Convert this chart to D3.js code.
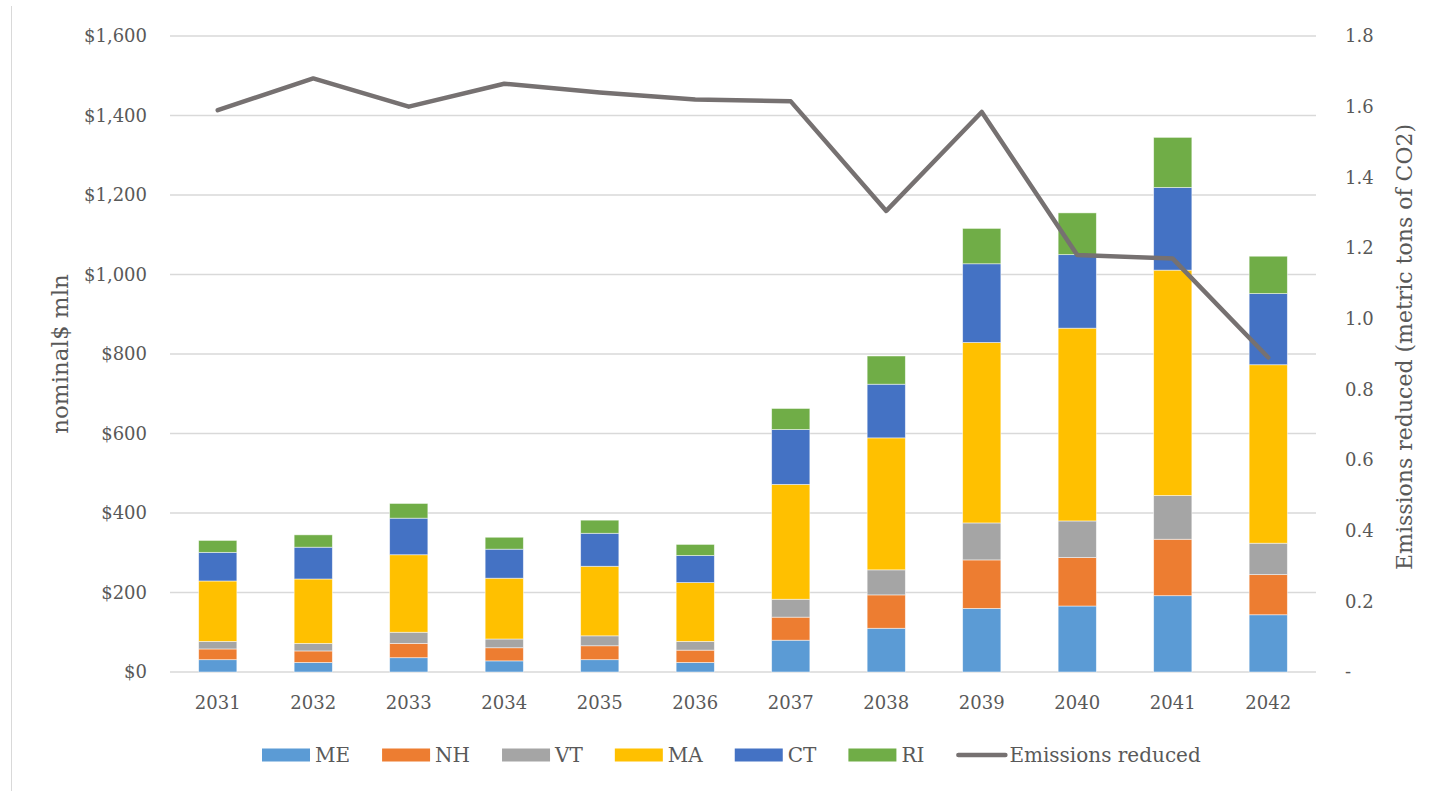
<!DOCTYPE html>
<html lang="en">
<head>
  <meta charset="UTF-8">
  <title>Stacked bars with emissions line</title>
  <script src="https://cdn.jsdelivr.net/npm/d3@7"></script>
  <style>
    body { margin: 0; background: #fff; }
    text { font-family: "DejaVu Serif", serif; fill: #595959; }
  </style>
</head>
<body>
  <script>
      // chart data
      var years = ["2031","2032","2033","2034","2035","2036","2037","2038","2039","2040","2041","2042"];
      var states = ["ME","NH","VT","MA","CT","RI"];
      var ME = [31, 24, 36, 28, 31, 24, 80, 110, 160, 166, 192, 144];
      var NH = [27, 29, 36, 33, 35, 31, 58, 84, 122, 122, 142, 101];
      var VT = [19, 19, 28, 22, 25, 22, 45, 63, 93, 92, 110, 79];
      var MA = [152, 162, 195, 153, 175, 148, 289, 332, 454, 485, 567, 449];
      var CT = [72, 80, 92, 73, 83, 68, 138, 135, 198, 185, 208, 179];
      var RI = [30, 31, 37, 30, 33, 28, 53, 71, 89, 105, 126, 94];
      var emissions = [1.59, 1.68, 1.60, 1.665, 1.64, 1.62, 1.615, 1.305, 1.585, 1.18, 1.17, 0.89];
      var leftTicks = [0, 200, 400, 600, 800, 1000, 1200, 1400, 1600];
      var rightTicks = [0, 0.2, 0.4, 0.6, 0.8, 1.0, 1.2, 1.4, 1.6, 1.8];

      var width = 1429, height = 791;
      var colors = {ME:"#5B9BD5", NH:"#ED7D31", VT:"#A5A5A5", MA:"#FFC000", CT:"#4472C4", RI:"#70AD47"};
      var lineColor = "#767171";

      // build rows for the stack
      var bySeries = {ME:ME, NH:NH, VT:VT, MA:MA, CT:CT, RI:RI};
      var rows = years.map(function(y, i){
        var r = {year: y};
        states.forEach(function(s){ r[s] = bySeries[s][i]; });
        return r;
      });
      var stacked = d3.stack().keys(states)(rows);

      var svg = d3.select("body")
        .append("svg")
        .attr("width", width)
        .attr("height", height);

      // thin outer frame line on the left
      svg.append("line")
        .attr("x1", 11.5).attr("x2", 11.5)
        .attr("y1", 6).attr("y2", height)
        .attr("stroke", "#d9d9d9").attr("stroke-width", 1);

      var x = d3.scaleBand().domain(years).range([170, 1316]).paddingInner(0.6).paddingOuter(0.3);
      var y = d3.scaleLinear().domain([0, 1600]).range([672, 36]);
      var y2 = d3.scaleLinear().domain([0, 1.8]).range([672, 36]);

      // gridlines
      svg.append("g").selectAll("line").data(leftTicks).enter()
        .append("line")
        .attr("x1", 170).attr("x2", 1316)
        .attr("y1", function(d){ return y(d); })
        .attr("y2", function(d){ return y(d); })
        .attr("stroke", "#d9d9d9").attr("stroke-width", 1.5);

      // left axis
      var leftAxis = svg.append("g")
        .attr("transform", "translate(152,0)")
        .call(d3.axisLeft(y).tickValues(leftTicks).tickSize(0).tickPadding(5)
          .tickFormat(function(d){ return "$" + d3.format(",")(d); }));
      leftAxis.select(".domain").remove();
      leftAxis.selectAll("text").attr("font-size", 18).style("font-family", "DejaVu Serif").attr("fill", "#595959");

      // right axis
      var rightAxis = svg.append("g")
        .attr("transform", "translate(1340,0)")
        .call(d3.axisRight(y2).tickValues(rightTicks).tickSize(0).tickPadding(5)
          .tickFormat(function(d){ return d === 0 ? "-" : d3.format(".1f")(d); }));
      rightAxis.select(".domain").remove();
      rightAxis.selectAll("text").attr("font-size", 18).style("font-family", "DejaVu Serif").attr("fill", "#595959");

      // x axis labels
      svg.append("g").selectAll("text").data(years).enter()
        .append("text")
        .attr("x", function(d){ return x(d) + x.bandwidth()/2; })
        .attr("y", 709)
        .attr("text-anchor", "middle")
        .attr("font-size", 18)
        .text(function(d){ return d; });

      // stacked bars
      var layers = svg.append("g").selectAll("g").data(stacked).enter()
        .append("g")
        .attr("fill", function(d){ return colors[d.key]; });

      layers.selectAll("rect").data(function(d){ return d; }).enter()
        .append("rect")
        .attr("x", function(d){ return x(d.data.year); })
        .attr("width", x.bandwidth())
        .attr("y", function(d){ return y(d[1]); })
        .attr("height", function(d){ return y(d[0]) - y(d[1]); })
        .attr("stroke", "#ffffff")
        .attr("stroke-opacity", 0.6)
        .attr("stroke-width", 0.8);

      // emissions line on right axis
      var line = d3.line()
        .x(function(d, i){ return x(years[i]) + x.bandwidth()/2; })
        .y(function(d){ return y2(d); });

      svg.append("path")
        .datum(emissions)
        .attr("d", line)
        .attr("fill", "none")
        .attr("stroke", lineColor)
        .attr("stroke-width", 4.5)
        .attr("stroke-linejoin", "round")
        .attr("stroke-linecap", "round");

      // axis titles
      svg.append("text")
        .attr("transform", "translate(68,354) rotate(-90)")
        .attr("text-anchor", "middle")
        .attr("font-size", 23)
        .text("nominal$ mln");

      svg.append("text")
        .attr("transform", "translate(1412,347) rotate(-90)")
        .attr("text-anchor", "middle")
        .attr("font-size", 22)
        .text("Emissions reduced (metric tons of CO2)");

      // legend laid out left to right
      var legendItems = states.map(function(s){ return {name: s, type: "rect"}; })
        .concat([{name: "Emissions reduced", type: "line"}]);
      var legend = svg.append("g");
      var lx = 262, ly = 755;
      legendItems.forEach(function(item){
        var g = legend.append("g").attr("transform", "translate(" + lx + "," + ly + ")");
        if (item.type === "rect") {
          g.append("rect").attr("x", 0).attr("y", -6.5).attr("width", 48).attr("height", 13)
            .attr("fill", colors[item.name]);
        } else {
          g.append("line").attr("x1", 2).attr("x2", 49).attr("y1", 0).attr("y2", 0)
            .attr("stroke", lineColor).attr("stroke-width", 4.5).attr("stroke-linecap", "round");
        }
        var t = g.append("text").attr("x", 53).attr("y", 7).attr("font-size", 20).text(item.name);
        lx += 53 + t.node().getComputedTextLength() + 32;
      });
  </script>
</body>
</html>
